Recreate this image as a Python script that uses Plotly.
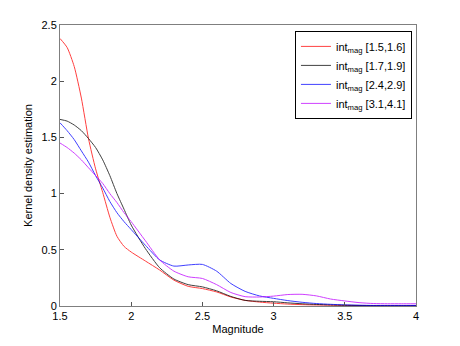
import plotly.graph_objects as go

x = [1.5, 1.55, 1.6, 1.65, 1.7, 1.75, 1.8, 1.85, 1.9, 1.95, 2.0, 2.1, 2.2, 2.3, 2.4,
     2.5, 2.6, 2.7, 2.8, 2.9, 3.0, 3.1, 3.2, 3.3, 3.4, 3.5, 3.6, 3.7, 3.8, 3.9, 4.0]

red = [2.38, 2.30, 2.13, 1.85, 1.49, 1.22, 1.01, 0.79, 0.62, 0.53, 0.48, 0.40, 0.32, 0.23, 0.175,
       0.155, 0.125, 0.08, 0.05, 0.035, 0.025, 0.017, 0.012, 0.009, 0.007, 0.005, 0.004,
       0.003, 0.003, 0.003, 0.003]
black = [1.66, 1.645, 1.61, 1.56, 1.49, 1.41, 1.30, 1.16, 1.00, 0.86, 0.72, 0.51, 0.34, 0.24, 0.19,
         0.17, 0.135, 0.085, 0.05, 0.042, 0.038, 0.028, 0.02, 0.014, 0.01, 0.007, 0.005,
         0.004, 0.003, 0.003, 0.003]
blue = [1.63, 1.56, 1.48, 1.38, 1.28, 1.16, 1.05, 0.93, 0.83, 0.75, 0.68, 0.54, 0.41, 0.355, 0.365,
        0.37, 0.31, 0.20, 0.13, 0.09, 0.068, 0.048, 0.033, 0.022, 0.015, 0.01, 0.007,
        0.005, 0.005, 0.005, 0.005]
purple = [1.45, 1.41, 1.36, 1.30, 1.23, 1.16, 1.09, 1.00, 0.92, 0.83, 0.75, 0.58, 0.41, 0.31, 0.26,
          0.245, 0.19, 0.12, 0.083, 0.08, 0.088, 0.102, 0.104, 0.09, 0.062, 0.045, 0.03,
          0.022, 0.02, 0.02, 0.02]

names = ["int<sub>mag</sub> [1.5,1.6]", "int<sub>mag</sub> [1.7,1.9]",
         "int<sub>mag</sub> [2.4,2.9]", "int<sub>mag</sub> [3.1,4.1]"]
colors = ["#ff0000", "#000000", "#0000ff", "#bf00ff"]
series = [red, black, blue, purple]

x_ticks = [1.5, 2, 2.5, 3, 3.5, 4]
x_labels = ["1.5", "2", "2.5", "3", "3.5", "4"]
y_ticks = [0, 0.5, 1, 1.5, 2, 2.5]
y_labels = ["0", "0.5", "1", "1.5", "2", "2.5"]

fig = go.Figure()
for ys, nm, c in zip(series, names, colors):
    fig.add_trace(go.Scatter(x=x, y=ys, mode="lines", name=nm,
                             line=dict(color=c, width=1, shape="spline", smoothing=0.6),
                             opacity=0.75))

axis_common = dict(showgrid=False, zeroline=False, ticks="inside", ticklen=4,
                   tickcolor="#555555", linecolor="#7f7f7f", linewidth=1, mirror=True,
                   showline=True, tickfont=dict(size=11, color="#000000"))

fig.update_layout(
    width=452, height=338,
    margin=dict(l=52, r=44, t=17, b=40),
    paper_bgcolor="white", plot_bgcolor="white",
    font=dict(family="Liberation Sans, Arial, sans-serif", size=11, color="#000000"),
    showlegend=True,
    legend=dict(x=0.66, y=0.979, xanchor="left", yanchor="top",
                bordercolor="#000000", borderwidth=1, bgcolor="white",
                font=dict(size=11), tracegroupgap=0, itemwidth=30),
    xaxis=dict(range=[1.5, 4], tickvals=x_ticks, ticktext=x_labels,
               title=dict(text="Magnitude", standoff=4, font=dict(size=11)), **axis_common),
    yaxis=dict(range=[0, 2.5], tickvals=y_ticks, ticktext=y_labels,
               title=dict(text="Kernel density estimation", standoff=6, font=dict(size=11)),
               **axis_common),
)

fig.write_html("out.html")
